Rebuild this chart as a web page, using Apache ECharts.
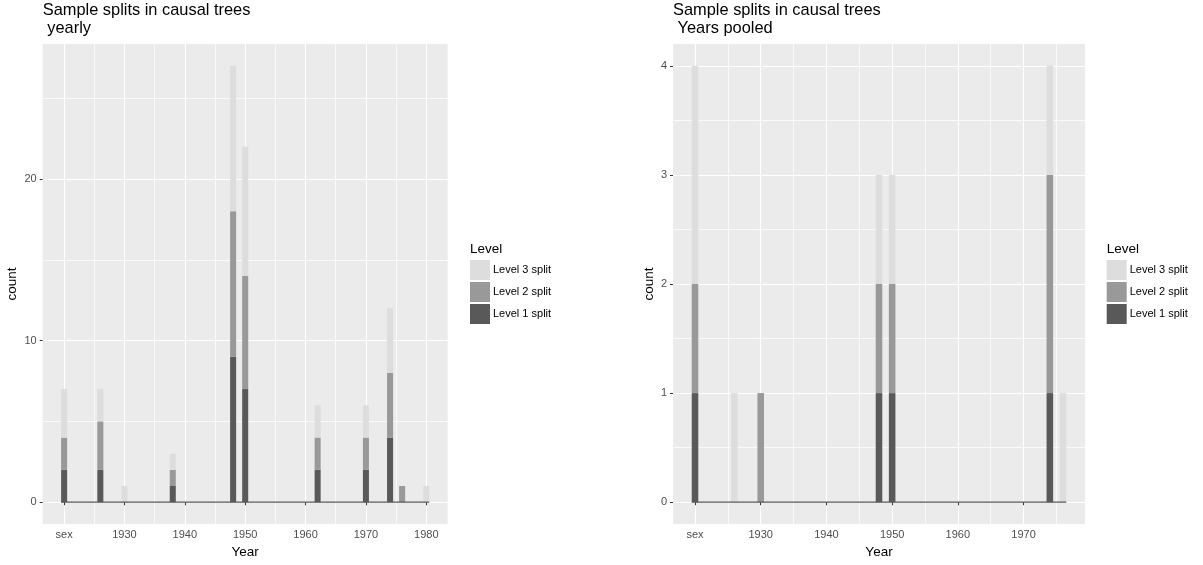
<!DOCTYPE html>
<html>
<head>
<meta charset="utf-8">
<script src="https://cdn.jsdelivr.net/npm/echarts@6/dist/echarts.min.js"></script>
<style>
  html, body { margin: 0; padding: 0; background: #ffffff; }
  #chart { width: 1203px; height: 565px; }
</style>
</head>
<body>
<div id="chart"></div>
<script>
// Split counts per year, stacked by tree level
const yearsYearly = [1920, 1926, 1930, 1938, 1948, 1950, 1962, 1970, 1974, 1976, 1980];
const yearlyLevel1 = [2, 2, 0, 1, 9, 7, 2, 2, 4, 0, 0];
const yearlyLevel2 = [2, 3, 0, 1, 9, 7, 2, 2, 4, 1, 0];
const yearlyLevel3 = [3, 2, 1, 1, 9, 8, 2, 2, 4, 0, 1];

const yearsPooled = [1920, 1926, 1930, 1948, 1950, 1974, 1976];
const pooledLevel1 = [1, 0, 0, 1, 1, 1, 0];
const pooledLevel2 = [1, 0, 1, 1, 1, 2, 0];
const pooledLevel3 = [2, 1, 0, 1, 1, 1, 1];

const levelNames = ['Level 1 split', 'Level 2 split', 'Level 3 split'];

const xTicksYearly = [1920, 1930, 1940, 1950, 1960, 1970, 1980];
const xTickLabelsYearly = ['sex', '1930', '1940', '1950', '1960', '1970', '1980'];
const xMinorYearly = [1925, 1935, 1945, 1955, 1965, 1975];
const yTicksYearly = [0, 10, 20];
const yMinorYearly = [5, 15, 25];

const xTicksPooled = [1920, 1930, 1940, 1950, 1960, 1970];
const xTickLabelsPooled = ['sex', '1930', '1940', '1950', '1960', '1970'];
const xMinorPooled = [1925, 1935, 1945, 1955, 1965, 1975];
const yTicksPooled = [0, 1, 2, 3, 4];
const yMinorPooled = [0.5, 1.5, 2.5, 3.5];

const FONT = '"Liberation Sans", Arial, Helvetica, sans-serif';
const LEVEL_COLORS = ['#595959', '#999999', '#DDDDDD'];
const BIN = 1;        // histogram bin width, in years
const EXPAND = 0.05;  // axis padding on each side, as a share of the data range

const chart = echarts.init(document.getElementById('chart'), null, { renderer: 'canvas' });

// One bin segment: [year, bottom, top]
function renderBin(params, api) {
  const x = api.value(0);
  const p0 = api.coord([x - BIN / 2, api.value(2)]);
  const p1 = api.coord([x + BIN / 2, api.value(1)]);
  return {
    type: 'rect',
    shape: { x: p0[0], y: p0[1], width: p1[0] - p0[0], height: p1[1] - p0[1] },
    style: { fill: api.visual('color') }
  };
}

function stackSegments(years, levels) {
  const base = years.map(() => 0);
  return levels.map(vals => {
    const seg = [];
    years.forEach((yr, i) => {
      if (vals[i] > 0) seg.push([yr, base[i], base[i] + vals[i]]);
      base[i] += vals[i];
    });
    return seg;
  });
}

function buildPanel(gi, rect, years, levels, xTicks, xLabels, xMinor, yTicks, yMinor, yNameGap) {
  const lo = years[0] - BIN / 2;
  const hi = years[years.length - 1] + BIN / 2;
  const xPad = (hi - lo) * EXPAND;
  const totals = years.map((_, i) => levels.reduce((s, l) => s + l[i], 0));
  const yMax = Math.max.apply(null, totals);
  const yPad = yMax * EXPAND;

  const grid = {
    left: rect.left, top: rect.top, width: rect.width, height: rect.height,
    show: true, backgroundColor: '#EBEBEB', borderWidth: 0,
    containLabel: false, outerBoundsMode: 'none'
  };

  const xMajor = {
    type: 'value', gridIndex: gi, position: 'bottom',
    min: lo - xPad, max: hi + xPad,
    name: 'Year', nameLocation: 'middle', nameGap: 20,
    nameTextStyle: { color: '#000000', fontSize: 13.5, fontFamily: FONT },
    axisLine: { show: false },
    axisTick: { show: true, inside: false, length: 3, customValues: xTicks,
                lineStyle: { color: '#333333', width: 1 } },
    axisLabel: { show: true, customValues: xTicks, margin: 5, color: '#4D4D4D',
                 fontSize: 11, fontFamily: FONT,
                 formatter: v => xLabels[xTicks.indexOf(v)] },
    splitLine: { show: true, lineStyle: { color: '#FFFFFF', width: 1.1 } }
  };
  const xMinorAxis = {
    type: 'value', gridIndex: gi, position: 'top',
    min: lo - xPad, max: hi + xPad,
    axisLine: { show: false },
    axisTick: { show: false, customValues: xMinor },
    axisLabel: { show: false, customValues: xMinor },
    splitLine: { show: true, lineStyle: { color: '#FFFFFF', width: 0.75 } }
  };
  const yMajor = {
    type: 'value', gridIndex: gi, position: 'left',
    min: -yPad, max: yMax + yPad,
    name: 'count', nameLocation: 'middle', nameGap: yNameGap, nameRotate: 90,
    nameTextStyle: { color: '#000000', fontSize: 13.5, fontFamily: FONT },
    axisLine: { show: false },
    axisTick: { show: true, inside: false, length: 3, customValues: yTicks,
                lineStyle: { color: '#333333', width: 1 } },
    axisLabel: { show: true, customValues: yTicks, margin: 6, color: '#4D4D4D',
                 fontSize: 11, fontFamily: FONT },
    splitLine: { show: true, lineStyle: { color: '#FFFFFF', width: 1.1 } }
  };
  const yMinorAxis = {
    type: 'value', gridIndex: gi, position: 'right',
    min: -yPad, max: yMax + yPad,
    axisLine: { show: false },
    axisTick: { show: false, customValues: yMinor },
    axisLabel: { show: false, customValues: yMinor },
    splitLine: { show: true, lineStyle: { color: '#FFFFFF', width: 0.75 } }
  };

  const xIdx = gi * 2, yIdx = gi * 2;
  const segs = stackSegments(years, levels);
  const series = segs.map((data, k) => ({
    type: 'custom', name: levelNames[k],
    xAxisIndex: xIdx, yAxisIndex: yIdx,
    itemStyle: { color: LEVEL_COLORS[k] },
    encode: { x: 0, y: [1, 2] },
    renderItem: renderBin,
    data: data, z: 2
  }));
  // baseline across all bins (empty bins have zero height)
  series.push({
    type: 'line', xAxisIndex: xIdx, yAxisIndex: yIdx, silent: true,
    showSymbol: false, symbol: 'none', z: 3,
    lineStyle: { color: '#595959', width: 1.2 },
    data: [[lo, 0], [hi, 0]]
  });

  return { grid, xAxes: [xMajor, xMinorAxis], yAxes: [yMajor, yMinorAxis], series };
}

const left = buildPanel(0, { left: 42.7, top: 44, width: 405, height: 480 },
  yearsYearly, [yearlyLevel1, yearlyLevel2, yearlyLevel3],
  xTicksYearly, xTickLabelsYearly, xMinorYearly, yTicksYearly, yMinorYearly, 23);
const right = buildPanel(1, { left: 673, top: 44, width: 412, height: 480 },
  yearsPooled, [pooledLevel1, pooledLevel2, pooledLevel3],
  xTicksPooled, xTickLabelsPooled, xMinorPooled, yTicksPooled, yMinorPooled, 17);

const titleStyle = { fontSize: 16.4, fontWeight: 'normal', color: '#000000', lineHeight: 18, fontFamily: FONT };
const legendTitleStyle = { fontSize: 13.5, fontWeight: 'normal', color: '#000000', fontFamily: FONT };
const legendBase = {
  orient: 'vertical', padding: 0, itemWidth: 20, itemHeight: 20, itemGap: 2,
  icon: 'rect', selectedMode: false,
  data: ['Level 3 split', 'Level 2 split', 'Level 1 split'],
  textStyle: { fontSize: 11, color: '#000000', fontFamily: FONT, padding: [0, 0, 0, -2] }
};

chart.setOption({
  animation: false,
  backgroundColor: '#FFFFFF',
  textStyle: { fontFamily: FONT },
  title: [
    { text: 'Sample splits in causal trees\n yearly', left: 42.7, top: 1, padding: 0, textStyle: titleStyle },
    { text: 'Sample splits in causal trees\n Years pooled', left: 673, top: 1, padding: 0, textStyle: titleStyle },
    { text: 'Level', left: 470, top: 242, padding: 0, textStyle: legendTitleStyle },
    { text: 'Level', left: 1106.7, top: 242, padding: 0, textStyle: legendTitleStyle }
  ],
  legend: [
    Object.assign({ left: 470, top: 260 }, legendBase),
    Object.assign({ left: 1106.7, top: 260 }, legendBase)
  ],
  grid: [left.grid, right.grid],
  xAxis: left.xAxes.concat(right.xAxes),
  yAxis: left.yAxes.concat(right.yAxes),
  series: left.series.concat(right.series)
});
</script>
</body>
</html>
